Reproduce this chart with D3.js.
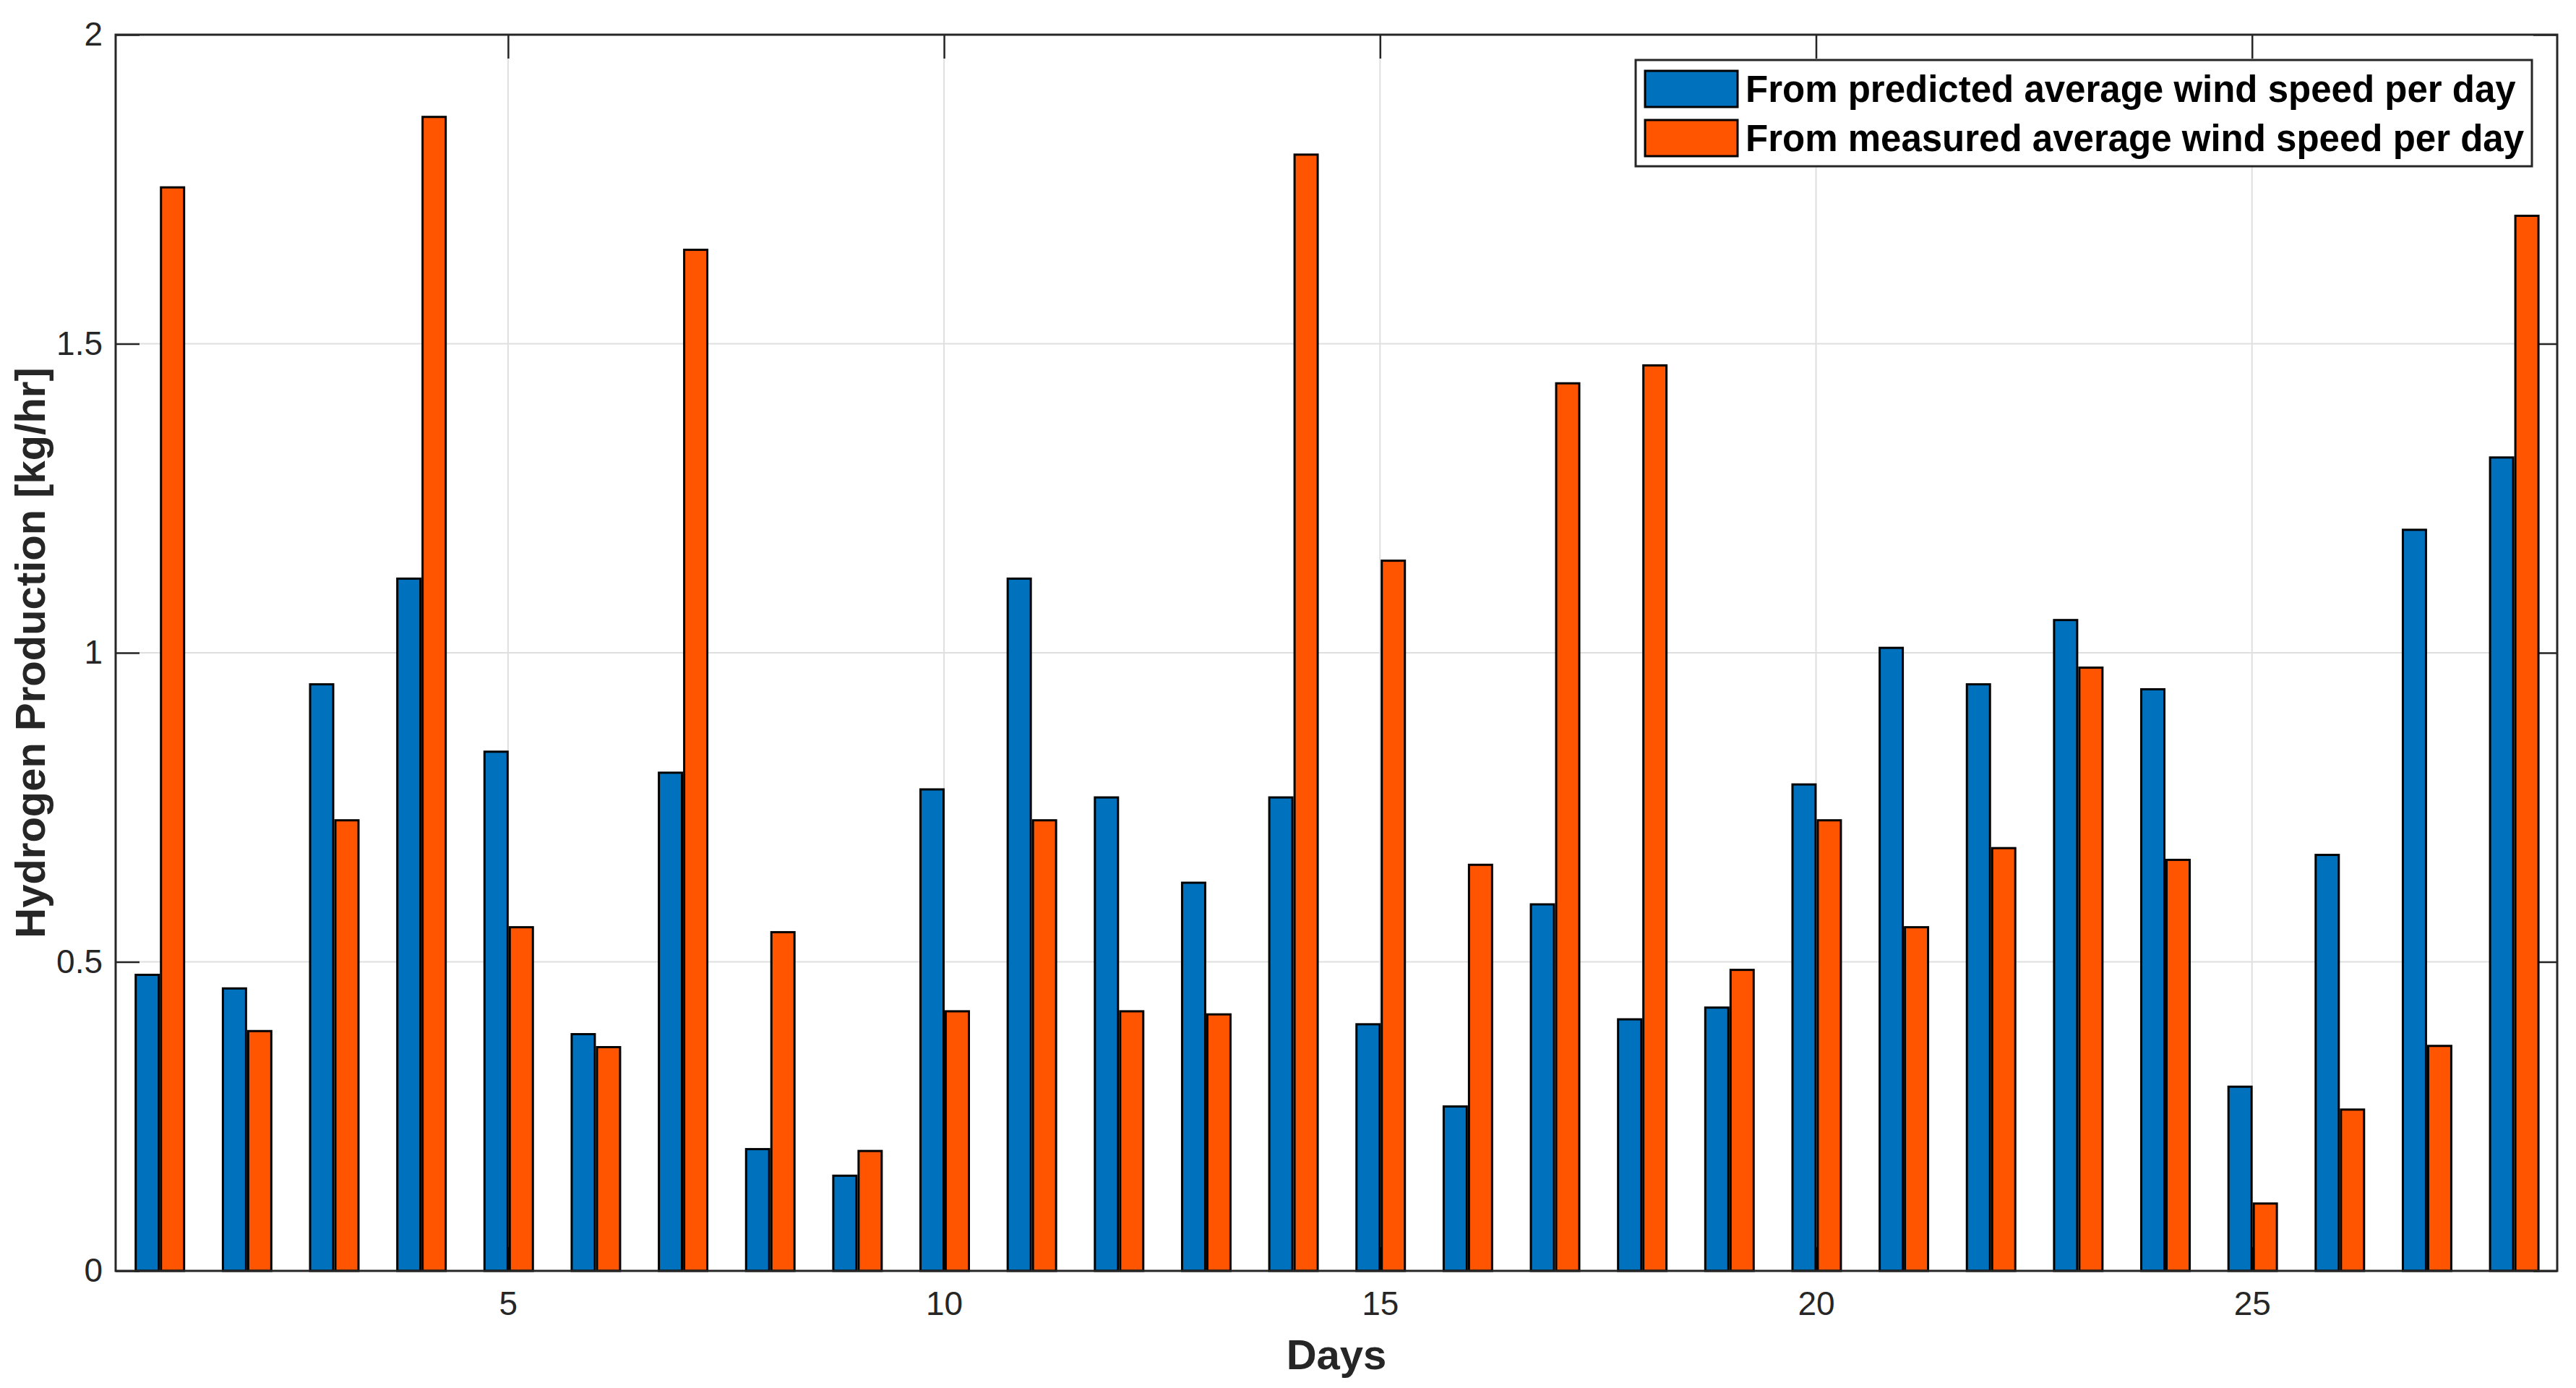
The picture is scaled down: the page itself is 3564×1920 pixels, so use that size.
<!DOCTYPE html>
<html>
<head>
<meta charset="utf-8">
<script src="https://cdn.jsdelivr.net/npm/d3@7"></script>
<style>
  body { margin: 0; background: #fff; }
  text { font-family: "Liberation Sans", Arial, sans-serif; }
</style>
</head>
<body>
<div id="chart"></div>
<script>
var days = d3.range(1, 29);
var predicted = [0.479, 0.457, 0.949, 1.120, 0.840, 0.383, 0.806, 0.197, 0.154, 0.779,
                 1.120, 0.766, 0.628, 0.766, 0.399, 0.266, 0.593, 0.407, 0.426, 0.787,
                 1.008, 0.949, 1.053, 0.941, 0.298, 0.673, 1.199, 1.316];
var measured = [1.753, 0.388, 0.729, 1.867, 0.556, 0.362, 1.652, 0.548, 0.194, 0.420,
                0.729, 0.420, 0.415, 1.806, 1.149, 0.657, 1.436, 1.465, 0.487, 0.729,
                0.556, 0.684, 0.976, 0.665, 0.109, 0.261, 0.364, 1.707];
var seriesNames = ["From predicted average wind speed per day",
                   "From measured average wind speed per day"];
var colors = ["#0072BD", "#FF5400"];
var xTicks = [5, 10, 15, 20, 25];
var yTicks = [0, 0.5, 1, 1.5, 2];

var W = 3564, H = 1920;
var margin = {top: 48, right: 26, bottom: 162, left: 160},
    width = W - margin.left - margin.right,
    height = H - margin.top - margin.bottom;

var svg = d3.select("#chart")
  .append("svg")
    .attr("width", W)
    .attr("height", H)
  .append("g")
    .attr("transform", "translate(" + margin.left + "," + margin.top + ")");

var x = d3.scaleLinear().domain([0.5, 28.5]).range([0, width]);
var y = d3.scaleLinear().domain([0, 2]).range([height, 0]);

var axisColor = "#262626";
var tickLen = 33;

// grid
svg.append("g").selectAll("line.gx")
  .data(xTicks).enter().append("line")
    .attr("x1", function(d) { return x(d); })
    .attr("x2", function(d) { return x(d); })
    .attr("y1", 0).attr("y2", height)
    .attr("stroke", "#dfdfdf").attr("stroke-width", 2);
svg.append("g").selectAll("line.gy")
  .data(yTicks.slice(1, -1)).enter().append("line")
    .attr("y1", function(d) { return y(d); })
    .attr("y2", function(d) { return y(d); })
    .attr("x1", 0).attr("x2", width)
    .attr("stroke", "#dfdfdf").attr("stroke-width", 2);

// axes (inner ticks on all four sides)
function styleAxis(g) {
  g.select(".domain").remove();
  g.selectAll(".tick line").attr("stroke", axisColor).attr("stroke-width", 2.5);
  g.selectAll(".tick text").attr("fill", axisColor).attr("font-size", 46);
}
svg.append("g")
  .attr("transform", "translate(0," + height + ")")
  .call(d3.axisBottom(x).tickValues(xTicks).tickSize(-tickLen).tickSizeOuter(0).tickPadding(28))
  .call(styleAxis);
svg.append("g")
  .call(d3.axisTop(x).tickValues(xTicks).tickSize(-tickLen).tickSizeOuter(0).tickFormat(""))
  .call(styleAxis);
svg.append("g")
  .call(d3.axisLeft(y).tickValues(yTicks).tickSize(-tickLen).tickSizeOuter(0).tickPadding(18)
    .tickFormat(function(d) { return String(d); }))
  .call(styleAxis);
svg.append("g")
  .attr("transform", "translate(" + width + ",0)")
  .call(d3.axisRight(y).tickValues(yTicks).tickSize(-tickLen).tickSizeOuter(0).tickFormat(""))
  .call(styleAxis);

// bars
var barW = 0.265;
var offsets = [-0.27, 0.02];
[predicted, measured].forEach(function(vals, s) {
  svg.append("g").selectAll("rect")
    .data(vals).enter().append("rect")
      .attr("x", function(d, i) { return x(days[i] + offsets[s]); })
      .attr("y", function(d) { return y(d); })
      .attr("width", x(barW) - x(0))
      .attr("height", function(d) { return height - y(d); })
      .attr("fill", colors[s])
      .attr("stroke", "#000")
      .attr("stroke-width", 3);
});

// box
svg.append("rect")
  .attr("x", 0).attr("y", 0).attr("width", width).attr("height", height)
  .attr("fill", "none").attr("stroke", axisColor).attr("stroke-width", 3);

// axis titles
svg.append("text")
  .attr("x", width / 2).attr("y", height + 136)
  .attr("text-anchor", "middle")
  .attr("font-size", 58).attr("font-weight", "bold").attr("fill", axisColor)
  .text("Days");
svg.append("text")
  .attr("transform", "translate(" + (-98) + "," + (height / 2) + ")rotate(-90)")
  .attr("text-anchor", "middle")
  .attr("font-size", 58).attr("font-weight", "bold").attr("fill", axisColor)
  .text("Hydrogen Production [kg/hr]");

// legend
var lg = svg.append("g").attr("transform", "translate(" + (2263 - margin.left) + "," + (83 - margin.top) + ")");
lg.append("rect")
  .attr("width", 1240).attr("height", 147)
  .attr("fill", "#fff").attr("stroke", axisColor).attr("stroke-width", 3);
seriesNames.forEach(function(name, s) {
  lg.append("rect")
    .attr("x", 13).attr("y", 15 + s * 68)
    .attr("width", 128).attr("height", 50)
    .attr("fill", colors[s]).attr("stroke", "#000").attr("stroke-width", 3);
  lg.append("text")
    .attr("x", 152).attr("y", 58 + s * 68)
    .attr("font-size", 51).attr("font-weight", "bold").attr("fill", "#000")
    .text(name);
});
</script>
</body>
</html>
